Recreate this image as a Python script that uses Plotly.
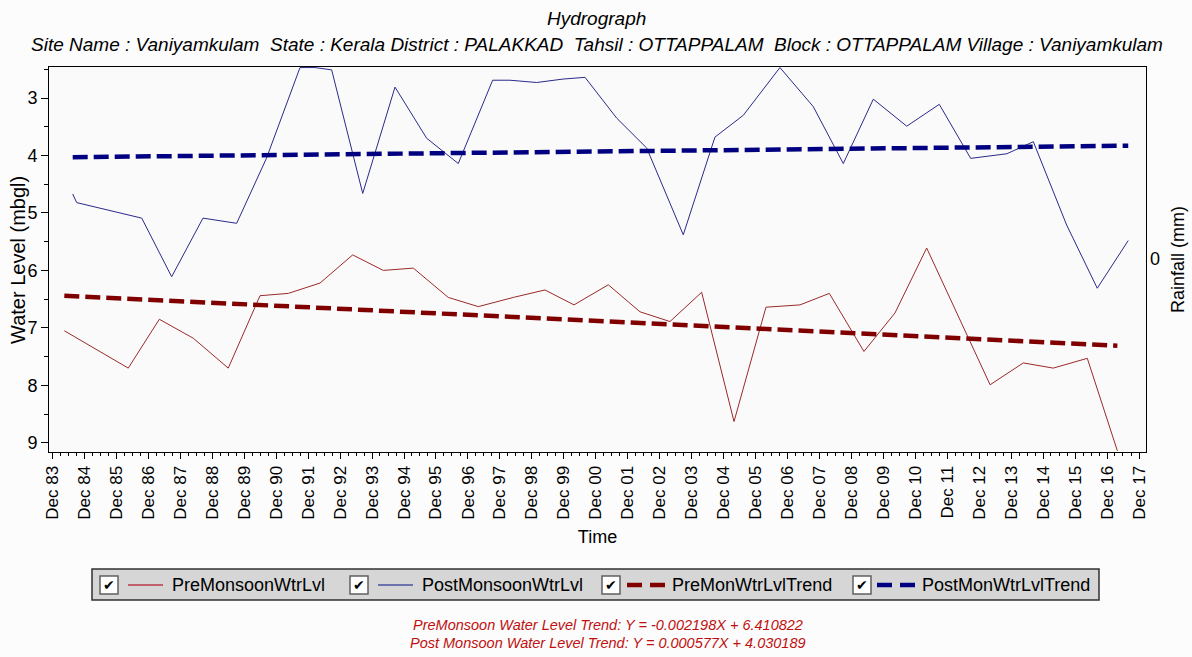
import plotly.graph_objects as go

# ---------------- data ----------------
pre_dates = ["1984-04-14", "1986-04-15", "1987-04-05", "1988-04-27", "1989-06-01",
             "1990-05-30", "1991-04-18", "1992-04-15", "1993-04-23", "1994-04-08",
             "1995-03-17", "1996-04-20", "1997-03-29", "1998-05-03", "1999-04-30",
             "2000-03-27", "2001-04-23", "2002-04-20", "2003-03-29", "2004-03-25",
             "2005-03-30", "2006-03-30", "2007-04-23", "2008-03-23", "2009-04-23",
             "2010-04-13", "2011-04-10", "2013-04-04", "2014-04-18", "2015-03-27",
             "2016-04-19", "2017-03-29"]
pre_levels = [7.05, 7.70, 6.85, 7.18, 7.70,
              6.44, 6.40, 6.22, 5.73, 6.00,
              5.96, 6.47, 6.63, 6.47, 6.34,
              6.60, 6.25, 6.72, 6.89, 6.38,
              8.63, 6.64, 6.60, 6.40, 7.41,
              6.74, 5.61, 7.99, 7.61, 7.70,
              7.53, 9.14]

post_dates = ["1984-07-19", "1984-09-03", "1986-09-16", "1987-08-24", "1988-08-16",
              "1989-09-05", "1990-08-11", "1991-08-30", "1992-02-17", "1992-08-26",
              "1993-08-16", "1994-08-20", "1995-08-17", "1996-08-12", "1997-09-09",
              "1998-03-26", "1999-01-25", "1999-11-22", "2000-07-31", "2001-07-28",
              "2002-07-06", "2003-08-28", "2004-08-24", "2005-07-14", "2006-09-06",
              "2007-09-22", "2008-08-30", "2009-08-08", "2010-08-25", "2011-09-01",
              "2012-08-25", "2013-10-12", "2014-08-11", "2015-08-27", "2016-08-11",
              "2017-07-31"]
post_levels = [4.67, 4.82, 5.09, 6.11, 5.09,
               5.18, 4.05, 2.47, 2.47, 2.51,
               4.66, 2.81, 3.70, 4.14, 2.69,
               2.69, 2.73, 2.67, 2.64, 3.35,
               3.87, 5.38, 3.68, 3.30, 2.47,
               3.15, 4.14, 3.02, 3.49, 3.11,
               4.05, 3.97, 3.76, 5.21, 6.31,
               5.48]

pre_trend_dates = ["1984-04-14", "2017-03-29"]
pre_trend_levels = [6.44, 7.31]
post_trend_dates = ["1984-07-19", "2017-07-31"]
post_trend_levels = [4.03, 3.83]

series_names = ["PreMonsoonWtrLvl", "PostMonsoonWtrLvl", "PreMonWtrLvlTrend", "PostMonWtrLvlTrend"]
y_ticks = [3, 4, 5, 6, 7, 8, 9]
title_text = "Hydrograph"
subtitle_text = ("Site Name : Vaniyamkulam  State : Kerala District : PALAKKAD  Tahsil : OTTAPPALAM  "
                 "Block : OTTAPPALAM Village : Vaniyamkulam")
trend_texts = ["PreMonsoon Water Level Trend: Y = -0.002198X + 6.410822",
               "Post Monsoon Water Level Trend: Y = 0.000577X + 4.030189"]

# ---------------- layout geometry ----------------
W, H = 1192, 657
L, R, T, B = 49, 1146, 67, 452
FONT = "Liberation Sans, Arial, sans-serif"

PRE_C = "#9a2a2a"
POST_C = "#2a2a8a"
PRE_T = "#800000"
POST_T = "#000080"
PRE_LEG = "#b83848"
POST_LEG = "#4850a0"


def px(xp):
    return (xp - L) / (R - L)


def py(yp):
    return (B - yp) / (B - T)


fig = go.Figure()
fig.add_trace(go.Scatter(x=pre_dates, y=pre_levels, mode="lines", name=series_names[0],
                         line=dict(color=PRE_C, width=1)))
fig.add_trace(go.Scatter(x=post_dates, y=post_levels, mode="lines", name=series_names[1],
                         line=dict(color=POST_C, width=1)))
fig.add_trace(go.Scatter(x=pre_trend_dates, y=pre_trend_levels, mode="lines", name=series_names[2],
                         line=dict(color=PRE_T, width=4.5, dash="15px,6px")))
fig.add_trace(go.Scatter(x=post_trend_dates, y=post_trend_levels, mode="lines", name=series_names[3],
                         line=dict(color=POST_T, width=4.5, dash="15px,6px")))

fig.update_layout(
    width=W, height=H,
    margin=dict(l=L, r=W - R, t=T, b=H - B),
    paper_bgcolor="#fcfcfc", plot_bgcolor="#fafafa",
    showlegend=False,
    font=dict(family=FONT, size=17, color="black"),
    xaxis=dict(type="date", range=["1983-10-22", "2018-02-19"],
               tick0="1983-12-01", dtick="M12", tickformat="%b %y", tickangle=-90,
               ticks="outside", ticklen=6, tickcolor="black", showgrid=False, zeroline=False,
               showline=True, linecolor="black", linewidth=1, mirror=True,
               tickfont=dict(size=17),
               minor=dict(dtick="M3", tick0="1983-12-01", ticks="outside", ticklen=3,
                          tickcolor="black", showgrid=False),
               title=dict(text="Time", font=dict(size=18), standoff=11)),
    yaxis=dict(range=[9.16, 2.46], tickvals=y_ticks, ticks="outside", ticklen=7,
               tickcolor="black", showgrid=False, zeroline=False,
               showline=True, linecolor="black", linewidth=1, mirror=True,
               tickfont=dict(size=18),
               minor=dict(dtick=0.5, ticks="outside", ticklen=4, tickcolor="black", showgrid=False)),
)

ann = []
ann.append(dict(text="<i>" + title_text + "</i>", x=px(596), y=py(18), xref="paper", yref="paper",
                showarrow=False, font=dict(size=19), xanchor="center", yanchor="middle"))
ann.append(dict(text="<i>" + subtitle_text + "</i>", x=px(597), y=py(44), xref="paper", yref="paper",
                showarrow=False, font=dict(size=19), xanchor="center", yanchor="middle"))
# left axis title
ann.append(dict(text="Water Level (mbgl)", x=px(18), y=py(260), xref="paper", yref="paper",
                showarrow=False, font=dict(size=20), textangle=-90, xanchor="center", yanchor="middle"))
# right axis
ann.append(dict(text="0", x=px(1148), y=py(259), xref="paper", yref="paper", showarrow=False,
                font=dict(size=18), xanchor="left", yanchor="middle"))
ann.append(dict(text="Rainfall (mm)", x=px(1178), y=py(260), xref="paper", yref="paper",
                showarrow=False, font=dict(size=18), textangle=-90, xanchor="center", yanchor="middle"))
# trend equations
for i, t in enumerate(trend_texts):
    ann.append(dict(text="<i>" + t + "</i>", x=px(608), y=py(625 + 18 * i), xref="paper", yref="paper",
                    showarrow=False, font=dict(size=14.5, color="#c01010"), xanchor="center",
                    yanchor="middle"))

shapes = []
# legend box
shapes.append(dict(type="rect", xref="paper", yref="paper", x0=px(92), x1=px(1099), y0=py(600), y1=py(569),
                   fillcolor="#d6d6d6", line=dict(color="#303030", width=1.5), layer="above"))
LY = 585
legend_items = [
    (100, 128, 163, 170, PRE_LEG, "solid", 1.5),
    (350, 378, 413, 420, POST_LEG, "solid", 1.5),
    (602, 627, 665, 670, PRE_T, "dash", 4.5),
    (853, 877, 915, 920, POST_T, "dash", 4.5),
]
for (cb, l0, l1, tx, col, dsh, wd), name in zip(legend_items, series_names):
    shapes.append(dict(type="rect", xref="paper", yref="paper", x0=px(cb), x1=px(cb + 18),
                       y0=py(LY + 9), y1=py(LY - 9), fillcolor="white",
                       line=dict(color="#606060", width=1.5), layer="above"))
    if dsh == "solid":
        shapes.append(dict(type="line", xref="paper", yref="paper", x0=px(l0), x1=px(l1),
                           y0=py(LY), y1=py(LY), line=dict(color=col, width=wd), layer="above"))
    else:
        shapes.append(dict(type="line", xref="paper", yref="paper", x0=px(l0), x1=px(l0 + 15),
                           y0=py(LY), y1=py(LY), line=dict(color=col, width=wd), layer="above"))
        shapes.append(dict(type="line", xref="paper", yref="paper", x0=px(l1 - 15), x1=px(l1),
                           y0=py(LY), y1=py(LY), line=dict(color=col, width=wd), layer="above"))
    ann.append(dict(text="✔", x=px(cb + 9), y=py(LY), xref="paper", yref="paper", showarrow=False,
                    font=dict(size=14, color="black"), xanchor="center", yanchor="middle"))
    ann.append(dict(text=name, x=px(tx), y=py(LY), xref="paper", yref="paper", showarrow=False,
                    font=dict(size=18, color="black"), xanchor="left", yanchor="middle"))

fig.update_layout(annotations=ann, shapes=shapes)
fig.write_html("out.html")
